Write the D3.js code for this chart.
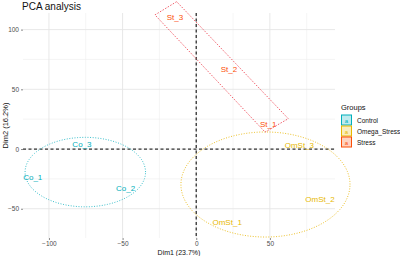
<!DOCTYPE html>
<html>
<head>
<meta charset="utf-8">
<script src="https://cdn.jsdelivr.net/npm/d3@7"></script>
<style>
  body { margin: 0; background: #fff; }
  text { font-family: Arial, "Liberation Sans", sans-serif; }
</style>
</head>
<body>
<div id="chart"></div>
<script>
// groups + palette
const groups = ["Control", "Omega_Stress", "Stress"];
const groupColors = ["#00AFBB", "#E7B800", "#FC4E07"];
const outlineColors = ["#3CC0CC", "#EDC22C", "#EE4D5A"];

// individuals (Dim1, Dim2)
const labels = ["Co_1", "Co_2", "Co_3", "OmSt_1", "OmSt_2", "OmSt_3", "St_1", "St_2", "St_3"];
const labelGroup = [0, 0, 0, 1, 1, 1, 2, 2, 2];
const dim1 = [-111, -48, -77.6, 21, 84, 70, 48.8, 22.2, -14.5];
const dim2 = [-23.5, -33, 4.2, -61, -41.6, 3.6, 21, 67, 110.5];

// group ellipses: center x, center y, radius x, radius y
const ellipseCx = [-75.3, 47];
const ellipseCy = [-19.3, -29.7];
const ellipseRx = [40.9, 57.4];
const ellipseRy = [29.1, 44];

// stress outline corners
const stressHull = [[-13.3, 123.4], [-28.0, 112.3], [46.7, 14.2], [62.5, 25.4]];

const xTicks = [-100, -50, 0, 50];
const xMinor = [-75, -25, 25, 75];
const yTicks = [-50, 0, 50, 100];
const yMinor = [-25, 25, 75];

const W = 400, H = 256;
const margin = {top: 13, right: 65, bottom: 18, left: 23};
const width = W - margin.left - margin.right;
const height = H - margin.top - margin.bottom;

const svg = d3.select("#chart").append("svg")
    .attr("width", W)
    .attr("height", H);

const g = svg.append("g")
    .attr("transform", `translate(${margin.left}, ${margin.top})`);

const x = d3.scaleLinear().domain([-117.6, 94.2]).range([0, width]);
const y = d3.scaleLinear().domain([-74.5, 113.9]).range([height, 0]);

// grid
g.selectAll(".vminor").data(xMinor).join("line")
    .attr("x1", d => x(d)).attr("x2", d => x(d))
    .attr("y1", 0).attr("y2", height)
    .attr("stroke", "#efefef").attr("stroke-width", 0.6);
g.selectAll(".hminor").data(yMinor).join("line")
    .attr("y1", d => y(d)).attr("y2", d => y(d))
    .attr("x1", 0).attr("x2", width)
    .attr("stroke", "#efefef").attr("stroke-width", 0.6);
g.selectAll(".vmajor").data(xTicks).join("line")
    .attr("x1", d => x(d)).attr("x2", d => x(d))
    .attr("y1", 0).attr("y2", height)
    .attr("stroke", "#e5e5e5").attr("stroke-width", 0.9);
g.selectAll(".hmajor").data(yTicks).join("line")
    .attr("y1", d => y(d)).attr("y2", d => y(d))
    .attr("x1", 0).attr("x2", width)
    .attr("stroke", "#e5e5e5").attr("stroke-width", 0.9);

// axes
const xAxis = d3.axisBottom(x).tickValues(xTicks).tickSize(2).tickPadding(1.5);
const yAxis = d3.axisLeft(y).tickValues(yTicks).tickSize(2).tickPadding(2);

const xg = g.append("g").attr("transform", `translate(0, ${height})`).call(xAxis);
const yg = g.append("g").call(yAxis);
[xg, yg].forEach(a => {
    a.select(".domain").remove();
    a.selectAll(".tick line").attr("stroke", "#555").attr("stroke-width", 0.7);
    a.selectAll(".tick text").attr("fill", "#4d4d4d").style("font-size", "6.5px");
});

// zero lines
g.append("line")
    .attr("x1", x(0)).attr("x2", x(0)).attr("y1", 0).attr("y2", height)
    .attr("stroke", "#333").attr("stroke-width", 1.3).attr("stroke-dasharray", "3,2.5");
g.append("line")
    .attr("y1", y(0)).attr("y2", y(0)).attr("x1", 0).attr("x2", width)
    .attr("stroke", "#333").attr("stroke-width", 1.3).attr("stroke-dasharray", "3,2.5");

// ellipses
const line = d3.line().x(d => x(d[0])).y(d => y(d[1])).curve(d3.curveLinearClosed);
ellipseCx.forEach((cx, i) => {
    const pts = d3.range(0, 100).map(k => {
        const t = k / 100 * 2 * Math.PI;
        return [cx + ellipseRx[i] * Math.cos(t), ellipseCy[i] + ellipseRy[i] * Math.sin(t)];
    });
    g.append("path")
        .attr("d", line(pts))
        .attr("fill", "none")
        .attr("stroke", outlineColors[i])
        .attr("stroke-width", 1)
        .attr("stroke-dasharray", "1,1.6");
});
g.append("path")
    .attr("d", line(stressHull))
    .attr("fill", "none")
    .attr("stroke", outlineColors[2])
    .attr("stroke-width", 0.9)
    .attr("stroke-dasharray", "1.5,1.5");

// labels
g.selectAll(".ind").data(labels).join("text")
    .attr("class", "ind")
    .attr("x", (d, i) => x(dim1[i]))
    .attr("y", (d, i) => y(dim2[i]))
    .attr("dy", "0.35em")
    .attr("text-anchor", "middle")
    .attr("fill", (d, i) => groupColors[labelGroup[i]])
    .style("font-size", "8px")
    .text(d => d);

// title + axis titles
svg.append("text")
    .attr("x", 22).attr("y", 10)
    .style("font-size", "10px")
    .attr("fill", "#111")
    .text("PCA analysis");

svg.append("text")
    .attr("x", margin.left + width / 2).attr("y", 255)
    .attr("text-anchor", "middle")
    .style("font-size", "7px")
    .attr("fill", "#111")
    .text("Dim1 (23.7%)");

svg.append("text")
    .attr("transform", `translate(8, ${margin.top + height / 2}) rotate(-90)`)
    .attr("text-anchor", "middle")
    .style("font-size", "7.5px")
    .attr("fill", "#111")
    .text("Dim2 (16.2%)");

// legend
const legend = svg.append("g").attr("transform", "translate(341, 0)");
legend.append("text")
    .attr("x", 0).attr("y", 110)
    .style("font-size", "7.5px")
    .attr("fill", "#111")
    .text("Groups");
groups.forEach((grp, i) => {
    const ky = 115 + i * 11;
    legend.append("rect")
        .attr("x", 0.5).attr("y", ky)
        .attr("width", 10).attr("height", 10)
        .attr("fill", groupColors[i]).attr("fill-opacity", 0.25)
        .attr("stroke", groupColors[i]).attr("stroke-width", 1);
    legend.append("text")
        .attr("x", 5.5).attr("y", ky + 7.5)
        .attr("text-anchor", "middle")
        .style("font-size", "6px")
        .attr("fill", groupColors[i])
        .text("a");
    legend.append("text")
        .attr("x", 16).attr("y", ky + 7.5)
        .style("font-size", "6.5px")
        .attr("fill", "#111")
        .text(grp);
});
</script>
</body>
</html>
